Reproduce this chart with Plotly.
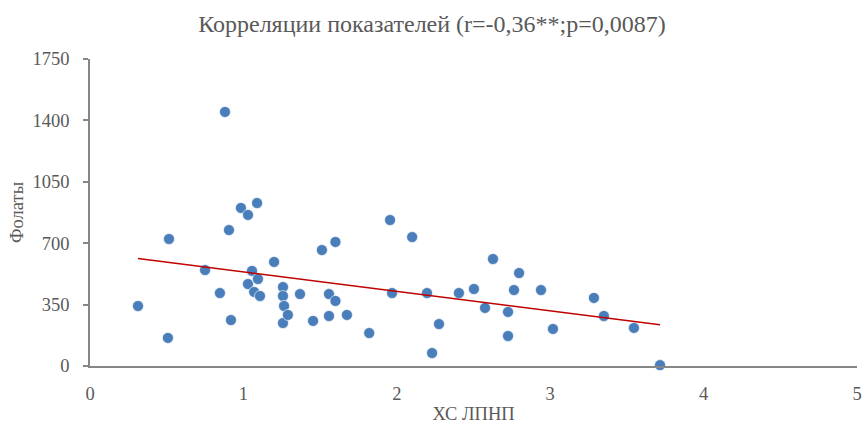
import numpy as np
import plotly.graph_objects as go

x_ldl = [0.313, 0.515, 0.508, 0.75, 0.847, 0.88, 0.906, 0.919, 0.984, 1.03,
         1.03, 1.056, 1.07, 1.089, 1.095, 1.108, 1.2, 1.258, 1.258, 1.265,
         1.258, 1.29, 1.369, 1.454, 1.512, 1.558, 1.558, 1.6, 1.6, 1.675,
         1.82, 1.956, 1.969, 2.1, 2.197, 2.23, 2.275, 2.405, 2.503, 2.575,
         2.627, 2.725, 2.725, 2.764, 2.797, 2.94, 3.018, 3.285, 3.35, 3.546,
         3.716]
y_fol = [342, 724, 160, 547, 416, 1448, 775, 262, 901, 467,
         861, 542, 422, 929, 496, 399, 593, 450, 399, 342,
         245, 291, 410, 257, 661, 410, 285, 707, 371, 291,
         188, 832, 416, 735, 416, 74, 239, 416, 439, 331,
         610, 308, 171, 433, 530, 433, 211, 388, 285, 217,
         5]

title_text = "Корреляции показателей (r=-0,36**;p=0,0087)"
x_title = "ХС ЛПНП"
y_title = "Фолаты"
x_ticks = [0, 1, 2, 3, 4, 5]
y_ticks = [0, 350, 700, 1050, 1400, 1750]

xa = np.array(x_ldl)
ya = np.array(y_fol)
slope, intercept = np.polyfit(xa, ya, 1)
tx = np.array([xa.min(), xa.max()])
ty = slope * tx + intercept

gray = "#595959"
font_family = "Liberation Serif, Times New Roman, serif"
fs = 18.5

fig = go.Figure()
fig.add_trace(go.Scatter(
    x=x_ldl, y=y_fol, mode="markers",
    marker=dict(color="#4a7ebb", size=11, line=dict(color="white", width=0.6)),
    cliponaxis=False, showlegend=False,
))
fig.add_trace(go.Scatter(
    x=tx, y=ty, mode="lines",
    line=dict(color="#c00000", width=1.5),
    showlegend=False,
))

fig.update_layout(
    width=864, height=428,
    margin=dict(l=90, r=7, t=59, b=62, autoexpand=False),
    paper_bgcolor="white", plot_bgcolor="white",
    font=dict(family=font_family, color=gray, size=fs),
    title=dict(text=title_text, x=0.5, xanchor="center", y=0.965, yanchor="top",
               font=dict(size=24, color=gray, family=font_family)),
    xaxis=dict(range=[0, 5], tickvals=x_ticks, showgrid=False, zeroline=False,
               showline=True, linecolor="#868686", linewidth=1.5,
               ticks="", ticklabelstandoff=10, tickfont=dict(size=fs, color=gray),
               title=dict(text=x_title, font=dict(size=fs, color=gray), standoff=4)),
    yaxis=dict(range=[0, 1750], tickvals=y_ticks, showgrid=False, zeroline=False,
               showline=True, linecolor="#868686", linewidth=1.5,
               ticks="outside", ticklen=5, tickcolor="#868686", tickwidth=1.5,
               ticklabelstandoff=10, tickfont=dict(size=fs, color=gray),
               title=dict(text=y_title, font=dict(size=fs, color=gray), standoff=4)),
)

fig.write_html("out.html", config={"displayModeBar": False},
               post_script="document.body.style.margin='0';")
